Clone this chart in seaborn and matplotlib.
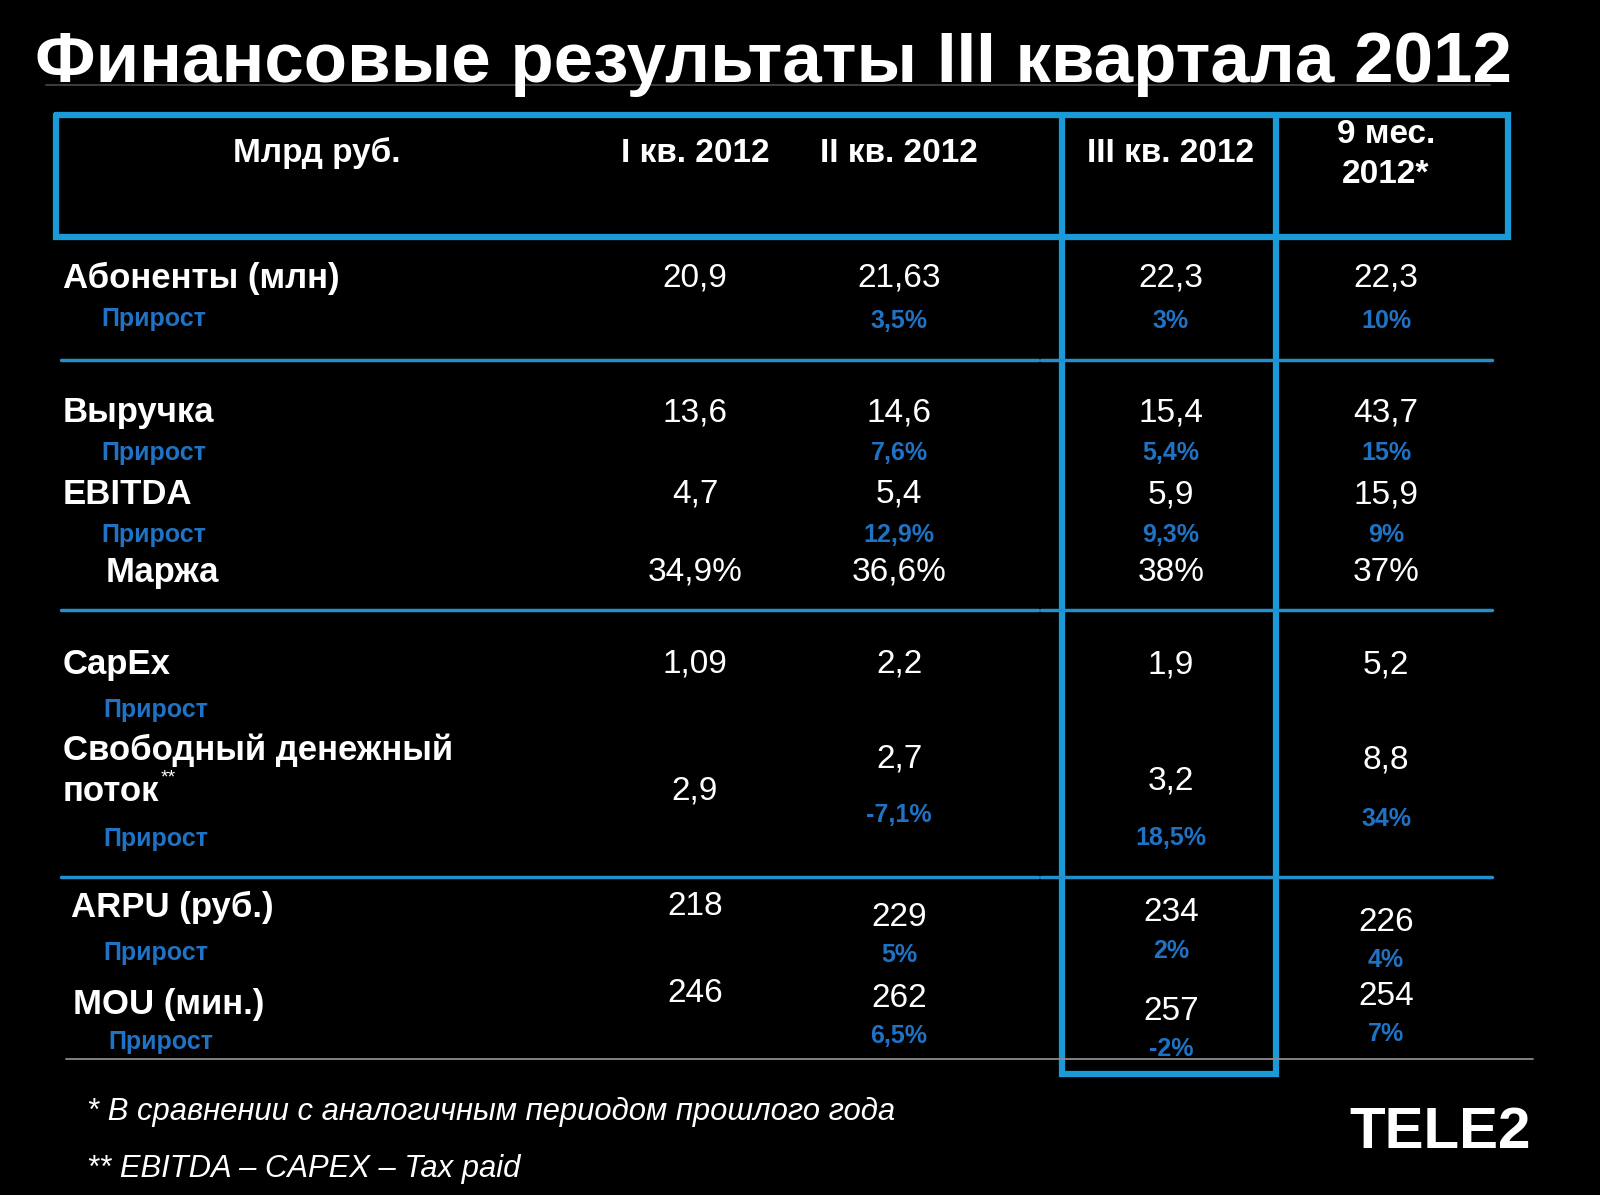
import matplotlib
matplotlib.use("Agg")
import matplotlib.pyplot as plt
import seaborn as sns
import pandas as pd

# ---------------- data ----------------
title = "Финансовые результаты III квартала 2012"
unit_header = "Млрд руб."
periods = ["I кв. 2012", "II кв. 2012", "III кв. 2012", "9 мес.\n2012*"]

metrics = ["Абоненты (млн)", "Выручка", "EBITDA", "Маржа", "CapEx",
           "Свободный денежный\nпоток", "ARPU (руб.)", "MOU (мин.)"]
has_growth_label = [True, True, True, False, True, True, True, True]
growth_label = "Прирост"

q1_values = ["20,9", "13,6", "4,7", "34,9%", "1,09", "2,9", "218", "246"]
q2_values = ["21,63", "14,6", "5,4", "36,6%", "2,2", "2,7", "229", "262"]
q3_values = ["22,3", "15,4", "5,9", "38%", "1,9", "3,2", "234", "257"]
m9_values = ["22,3", "43,7", "15,9", "37%", "5,2", "8,8", "226", "254"]

q1_growth = ["", "", "", "", "", "", "", ""]
q2_growth = ["3,5%", "7,6%", "12,9%", "", "", "-7,1%", "5%", "6,5%"]
q3_growth = ["3%", "5,4%", "9,3%", "", "", "18,5%", "2%", "-2%"]
m9_growth = ["10%", "15%", "9%", "", "", "34%", "4%", "7%"]

footnotes = ["* В сравнении с аналогичным периодом прошлого года",
             "** EBITDA – CAPEX – Tax paid"]
logo = "TELE2"

# ---------------- layout (pixels) ----------------
DY = 3
col_x = [695, 899, 1171, 1386]
label_x = [63, 63, 63, 106, 63, 63, 71, 73]
label_y = [275, 409, 491, 569, 661, 767, 904, 1001]
glabel_x = [101, 101, 101, 0, 103, 103, 103, 108]
glabel_y = [316, 450, 532, 0, 707, 836, 950, 1039]
value_y = [
    [275, 410, 491, 569, 661, 788, 903, 990],
    [275, 410, 491, 569, 661, 756, 914, 995],
    [275, 410, 492, 569, 662, 778, 909, 1008],
    [275, 410, 492, 569, 662, 757, 919, 993],
]
growth_y = [
    [0, 0, 0, 0, 0, 0, 0, 0],
    [318, 450, 532, 0, 0, 812, 952, 1033],
    [318, 450, 532, 0, 0, 835, 948, 1046],
    [318, 450, 532, 0, 0, 816, 957, 1031],
]

BOX = "#1b9ad8"
SEP = "#2190cc"
GROW = "#1f72c4"

sns.set_theme(style="dark")
plt.rcParams["font.family"] = ["Liberation Sans", "DejaVu Sans"]

fig = plt.figure(figsize=(16, 11.95), dpi=100, facecolor="black")
ax = fig.add_axes([0, 0, 1, 1])
ax.set_facecolor("black")
ax.set_xlim(0, 1600)
ax.set_ylim(1195, 0)
ax.axis("off")

# title
ax.plot([46, 1490], [85, 85], color="#3a3a3a", lw=1.5)
ax.text(35, 64, title, color="white", fontsize=51, fontweight="bold",
        ha="left", va="center")

# header box and III-quarter column
ax.plot([56, 1508, 1508, 56, 56], [115, 115, 237, 237, 115], color=BOX, lw=4.5,
        solid_joinstyle="miter")
ax.plot([1062, 1062, 1276, 1276], [115, 1074, 1074, 115], color=BOX, lw=4.5,
        solid_joinstyle="miter")

# separators
for yy in [360, 610, 877]:
    ax.plot([61, 1038], [yy, yy], color=SEP, lw=2.5)
    ax.plot([1041, 1492], [yy, yy], color=SEP, lw=2.5)
ax.plot([66, 1533], [1059, 1059], color="#8a8a8a", lw=1.3)

# header text
ax.text(317, 150 + DY, unit_header, color="white", fontsize=24, fontweight="bold",
        ha="center", va="center")
for x, p in zip(col_x, periods):
    if "\n" in p:
        top, bot = p.split("\n")
        ax.text(x, 131 + DY, top, color="white", fontsize=24, fontweight="bold",
                ha="center", va="center")
        ax.text(x, 171 + DY, bot, color="white", fontsize=24, fontweight="bold",
                ha="center", va="center")
    else:
        ax.text(x, 150 + DY, p, color="white", fontsize=24, fontweight="bold",
                ha="center", va="center")

# row labels
for i, m in enumerate(metrics):
    if "\n" in m:
        l1, l2 = m.split("\n")
        ax.text(label_x[i], label_y[i] - 20 + DY, l1, color="white", fontsize=25,
                fontweight="bold", ha="left", va="center")
        t2 = ax.text(label_x[i], label_y[i] + 21 + DY, l2, color="white", fontsize=25,
                     fontweight="bold", ha="left", va="center")
        ax.annotate("**", xy=(1, 0.9), xycoords=t2, xytext=(1, 0),
                    textcoords="offset points", color="white", fontsize=14,
                    ha="left", va="center")
    else:
        ax.text(label_x[i], label_y[i] + DY, m, color="white", fontsize=25,
                fontweight="bold", ha="left", va="center")
    if has_growth_label[i]:
        ax.text(glabel_x[i], glabel_y[i] + DY, growth_label, color=GROW, fontsize=18,
                fontweight="bold", ha="left", va="center")

# values
table = pd.DataFrame({
    "I": q1_values, "II": q2_values, "III": q3_values, "9M": m9_values,
})
growth = pd.DataFrame({
    "I": q1_growth, "II": q2_growth, "III": q3_growth, "9M": m9_growth,
})
for c, col in enumerate(table.columns):
    for r in range(len(metrics)):
        ax.text(col_x[c], value_y[c][r] + DY, table[col][r], color="white",
                fontsize=24, ha="center", va="center")
        g = growth[col][r]
        if g:
            ax.text(col_x[c], growth_y[c][r] + DY, g, color=GROW, fontsize=18,
                    fontweight="bold", ha="center", va="center")

# footnotes
ax.text(87, 1109 + DY, footnotes[0], color="white", fontsize=22.3, style="italic",
        ha="left", va="center")
ax.text(87, 1166 + DY, footnotes[1], color="white", fontsize=22.3, style="italic",
        ha="left", va="center")

# logo
ax.text(1531, 1133, logo, color="white", fontsize=42, fontweight="heavy",
        ha="right", va="center")

fig.savefig("out.png", dpi=100, facecolor="black")
